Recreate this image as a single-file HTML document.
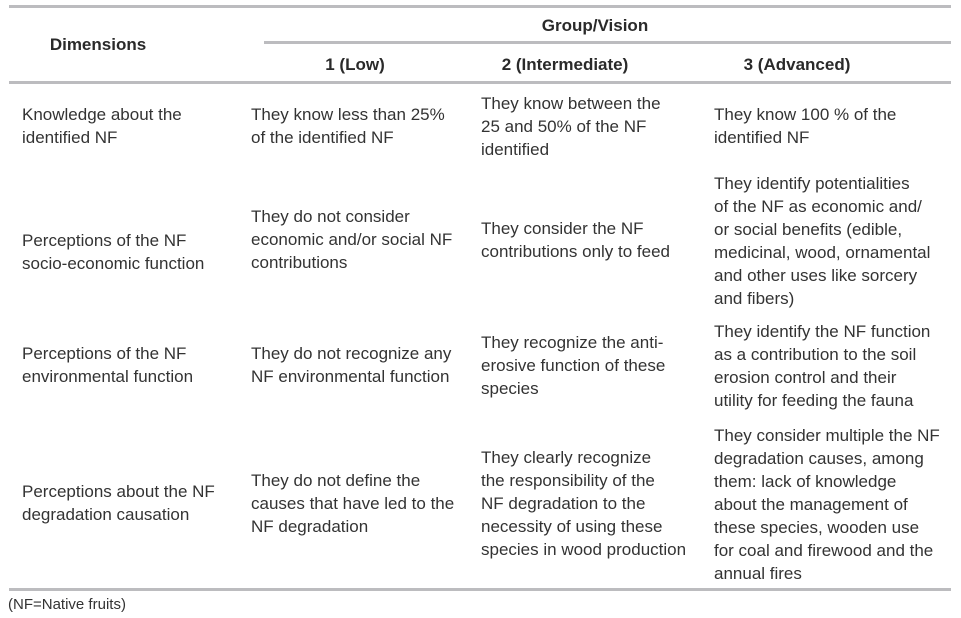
<!DOCTYPE html>
<html><head><meta charset="utf-8"><style>
body{margin:0;width:961px;height:618px;background:#fff;position:relative;overflow:hidden;font-family:"Liberation Sans",Arial,sans-serif;color:#333;}
.l{position:absolute;background:#bcbcbf;height:3px;}
.t{position:absolute;font-size:17px;line-height:23px;white-space:nowrap;}
.h{position:absolute;font-size:17px;font-weight:bold;color:#2a2a2a;transform:translateX(-50%);white-space:nowrap;line-height:20px;}
</style></head><body>
<div class="l" style="left:9px;top:5px;width:942px"></div>
<div class="l" style="left:264px;top:41px;width:687px"></div>
<div class="l" style="left:9px;top:81px;width:942px"></div>
<div class="l" style="left:9px;top:588px;width:942px"></div>

<div class="h" style="left:98px;top:35px">Dimensions</div>
<div class="h" style="left:595px;top:16px">Group/Vision</div>
<div class="h" style="left:355px;top:55px">1 (Low)</div>
<div class="h" style="left:565px;top:55px">2 (Intermediate)</div>
<div class="h" style="left:797px;top:55px">3 (Advanced)</div>

<div class="t" style="left:22px;top:103px">Knowledge about the<br>identified NF</div>
<div class="t" style="left:251px;top:103px">They know less than 25%<br>of the identified NF</div>
<div class="t" style="left:481px;top:92px">They know between the<br>25 and 50% of the NF<br>identified</div>
<div class="t" style="left:714px;top:103px">They know 100 % of the<br>identified NF</div>

<div class="t" style="left:22px;top:229px">Perceptions of the NF<br>socio-economic function</div>
<div class="t" style="left:251px;top:205px">They do not consider<br>economic and/or social NF<br>contributions</div>
<div class="t" style="left:481px;top:217px">They consider the NF<br>contributions only to feed</div>
<div class="t" style="left:714px;top:172px">They identify potentialities<br>of the NF as economic and/<br>or social benefits (edible,<br>medicinal, wood, ornamental<br>and other uses like sorcery<br>and fibers)</div>

<div class="t" style="left:22px;top:342px">Perceptions of the NF<br>environmental function</div>
<div class="t" style="left:251px;top:342px">They do not recognize any<br>NF environmental function</div>
<div class="t" style="left:481px;top:331px">They recognize the anti-<br>erosive function of these<br>species</div>
<div class="t" style="left:714px;top:320px">They identify the NF function<br>as a contribution to the soil<br>erosion control and their<br>utility for feeding the fauna</div>

<div class="t" style="left:22px;top:480px">Perceptions about the NF<br>degradation causation</div>
<div class="t" style="left:251px;top:469px">They do not define the<br>causes that have led to the<br>NF degradation</div>
<div class="t" style="left:481px;top:446px">They clearly recognize<br>the responsibility of the<br>NF degradation to the<br>necessity of using these<br>species in wood production</div>
<div class="t" style="left:714px;top:424px">They consider multiple the NF<br>degradation causes, among<br>them: lack of knowledge<br>about the management of<br>these species, wooden use<br>for coal and firewood and the<br>annual fires</div>

<div class="t" style="left:8px;top:595px;font-size:15px;line-height:20px">(NF=Native fruits)</div>
</body></html>
